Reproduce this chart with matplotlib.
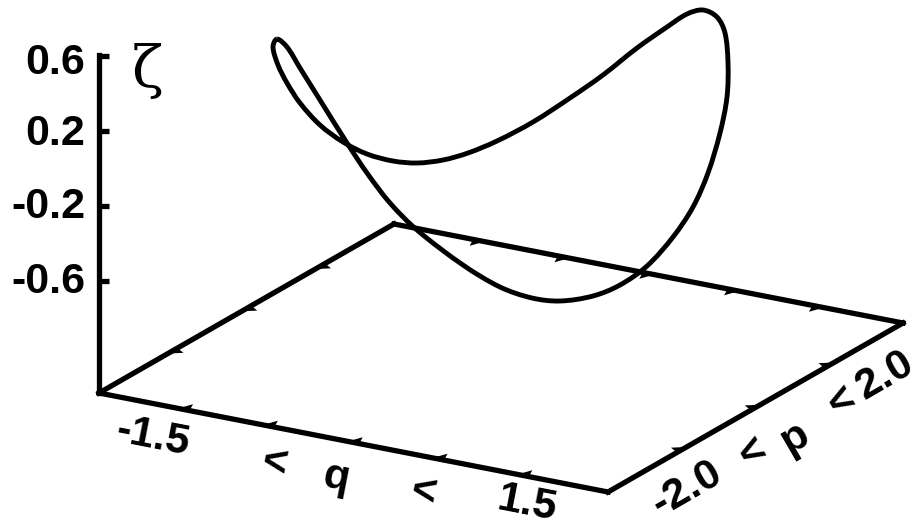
import numpy as np
import matplotlib
matplotlib.use("Agg")
import matplotlib.pyplot as plt
from matplotlib.path import Path
from matplotlib.patches import PathPatch

# Values
zeta_ticks = [0.6, 0.2, -0.2, -0.6]
zeta_labels = ["0.6", "0.2", "-0.2", "-0.6"]
q_range = (-2.25, 2.25)
p_range = (-2.0, 2.0)
zeta_floor = -1.2
q_ticks = [-1.5, -0.75, 0.0, 0.75, 1.5]
p_ticks = [-1.0, 0.0, 1.0]
# Closed curve, read as position on the picture plane
curve_x = [277, 273, 278, 287, 300, 320, 343, 367, 393, 417, 443, 468, 497, 533, 570, 603,
           637, 667, 687, 703, 717, 725, 728, 727, 720, 708, 693, 673, 647, 620, 593,
           560, 532, 500, 463, 417, 390, 367, 347, 320, 300, 287]
curve_y = [39, 47, 65, 83, 103, 125, 142, 154, 161, 163, 160, 153, 141, 122, 98, 75,
           48, 27, 14, 10, 17, 33, 63, 97, 133, 173, 207, 237, 266, 285, 296,
           301, 298, 287, 265, 230, 203, 173, 143, 100, 68, 47]


def project(q, p, z):
    fq = (q - q_range[0]) / (q_range[1] - q_range[0])
    fp = (p - p_range[0]) / (p_range[1] - p_range[0])
    return 99 + 509 * fq + 295 * fp, 393 + 99 * fq - 169 * fp - 187.5 * (z - zeta_floor)


def closed_smooth_path(xs, ys):
    pts = np.column_stack([xs, ys]).astype(float)
    n = len(pts)
    dist = np.array([np.linalg.norm(pts[(i + 1) % n] - pts[i]) for i in range(n)])
    tang = np.array([(pts[(i + 1) % n] - pts[i - 1]) / (dist[i] + dist[i - 1]) for i in range(n)])
    verts = [pts[0]]
    codes = [Path.MOVETO]
    for i in range(n):
        j = (i + 1) % n
        verts += [pts[i] + tang[i] * dist[i] / 3, pts[j] - tang[j] * dist[i] / 3, pts[j]]
        codes += [Path.CURVE4] * 3
    return Path(verts, codes)


fig = plt.figure(figsize=(9.22, 5.29), dpi=100)
ax = fig.add_axes([0, 0, 1, 1])
ax.set_xlim(0, 922)
ax.set_ylim(529, 0)
ax.axis("off")

LW = 3.8
q0, q1 = q_range
p0, p1 = p_range


def seg(a, b, lw=LW):
    ax.plot([a[0], b[0]], [a[1], b[1]], color="black", lw=lw, solid_capstyle="projecting",
            solid_joinstyle="miter")


def tri(pts):
    ax.fill([c[0] for c in pts], [c[1] for c in pts], color="black", lw=0)


# Floor
corners = [project(q0, p0, zeta_floor), project(q1, p0, zeta_floor),
           project(q1, p1, zeta_floor), project(q0, p1, zeta_floor)]
for i in range(4):
    seg(corners[i], corners[(i + 1) % 4])

# Vertical axis
seg(project(q0, p0, zeta_floor), project(q0, p0, 0.605))
for z, lab in zip(zeta_ticks, zeta_labels):
    x, y = project(q0, p0, z)
    ax.plot([x, x + 10], [y, y], color="black", lw=3.8, solid_capstyle="butt")
    ax.text(85, y + (3 if z == 0.6 else -1) - (2 if z < 0 else 0), lab, ha="right", va="center_baseline",
            fontsize=31, fontweight="bold", family="Liberation Sans")

# Floor ticks: small wedges pointing into the floor
dq = 0.05
dp = 0.065
for q in q_ticks:
    tri([project(q - dq, p0, zeta_floor), project(q + dq, p0, zeta_floor), project(q, p0 + 0.125, zeta_floor)])
    tri([project(q - dq, p1, zeta_floor), project(q + dq, p1, zeta_floor), project(q, p1 - 0.125, zeta_floor)])
for p in p_ticks:
    tri([project(q0, p - dp, zeta_floor), project(q0, p + dp, zeta_floor), project(q0 + 0.095, p, zeta_floor)])
    tri([project(q1, p - dp, zeta_floor), project(q1, p + dp, zeta_floor), project(q1 - 0.095, p, zeta_floor)])

# Curve
ax.add_patch(PathPatch(closed_smooth_path(curve_x, curve_y), fill=False, edgecolor="black",
                       lw=3.5, joinstyle="round"))

# Axis symbol
ax.text(147, 71, "ζ", ha="center", va="center", fontsize=42, family="DejaVu Serif")

# Rotated labels
front = [("-1.5", 153, 437), ("<", 274, 464), ("q", 336, 478), ("<", 423, 493), ("1.5", 527, 504)]
side = [("-2.0", 687, 489), ("<", 753, 453), ("p", 795, 438), ("<", 842, 402), ("2.0", 885, 376)]
for txt, x, y in front:
    ax.text(x, y, txt, rotation=-11, ha="center", va="center", rotation_mode="anchor",
            fontsize=31, fontweight="bold", family="Liberation Sans")
for txt, x, y in side:
    ax.text(x, y, txt, rotation=30, ha="center", va="center", rotation_mode="anchor",
            fontsize=31, fontweight="bold", family="Liberation Sans")

fig.savefig("out.png", dpi=100, facecolor="white")
